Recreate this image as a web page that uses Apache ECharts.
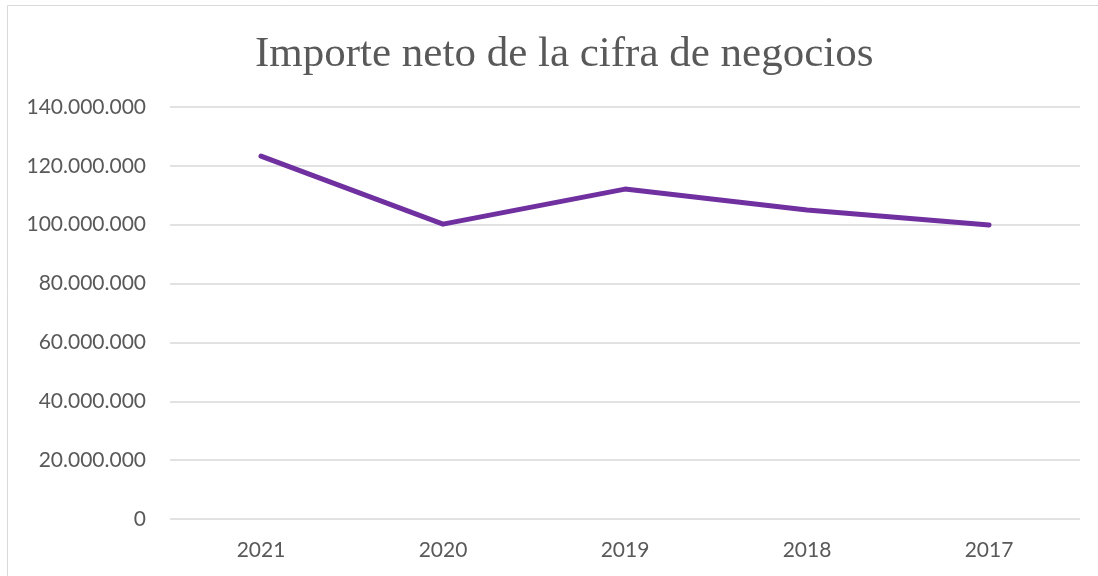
<!DOCTYPE html>
<html>
<head>
<meta charset="utf-8">
<script src="https://cdn.jsdelivr.net/npm/echarts@6/dist/echarts.min.js"></script>
<style>
    html, body { margin: 0; padding: 0; background: #fff; }
    #chart { width: 1098px; height: 576px; }
</style>
</head>
<body>
<div id="chart"></div>
<script>
// datos del gráfico
const years = ['2021', '2020', '2019', '2018', '2017'];
const importeNeto = [123300000, 100200000, 112100000, 105000000, 99900000];
const yTicks = [0, 20000000, 40000000, 60000000, 80000000, 100000000, 120000000, 140000000];

const textColor = '#595959';

// formato con puntos como separador de miles
function formatMiles(v) {
    return String(v).replace(/\B(?=(\d{3})+(?!\d))/g, '.');
}

const chart = echarts.init(document.getElementById('chart'));

chart.setOption({
    animation: false,
    title: {
        text: 'Importe neto de la cifra de negocios',
        left: 250,
        top: 28,
        textStyle: {
            fontFamily: 'Liberation Serif',
            fontSize: 43,
            fontWeight: 'normal',
            color: textColor
        }
    },
    graphic: [
        // borde del área del gráfico
        { type: 'line', shape: { x1: 7.5, y1: 5.5, x2: 1098, y2: 5.5 }, style: { stroke: '#d9d9d9', lineWidth: 1 } },
        { type: 'line', shape: { x1: 7.5, y1: 5.5, x2: 7.5, y2: 576 }, style: { stroke: '#d9d9d9', lineWidth: 1 } }
    ],
    grid: {
        left: 170,
        right: 18,
        top: 107,
        bottom: 57
    },
    xAxis: {
        type: 'category',
        data: years,
        boundaryGap: true,
        axisLine: { show: false },
        axisTick: { show: false },
        axisLabel: {
            color: textColor,
            fontFamily: 'Lato',
            fontSize: 21,
            margin: 21
        }
    },
    yAxis: {
        type: 'value',
        min: yTicks[0],
        max: yTicks[yTicks.length - 1],
        interval: yTicks[1] - yTicks[0],
        axisLine: { show: false },
        axisTick: { show: false },
        axisLabel: {
            color: textColor,
            fontFamily: 'Lato',
            fontSize: 21,
            margin: 24,
            formatter: formatMiles
        },
        splitLine: {
            lineStyle: { color: '#d9d9d9', width: 1.5 }
        }
    },
    series: [{
        name: 'Importe neto',
        type: 'line',
        data: importeNeto,
        symbol: 'none',
        lineStyle: {
            color: '#7030A0',
            width: 5,
            cap: 'round',
            join: 'round'
        }
    }]
});
</script>
</body>
</html>
